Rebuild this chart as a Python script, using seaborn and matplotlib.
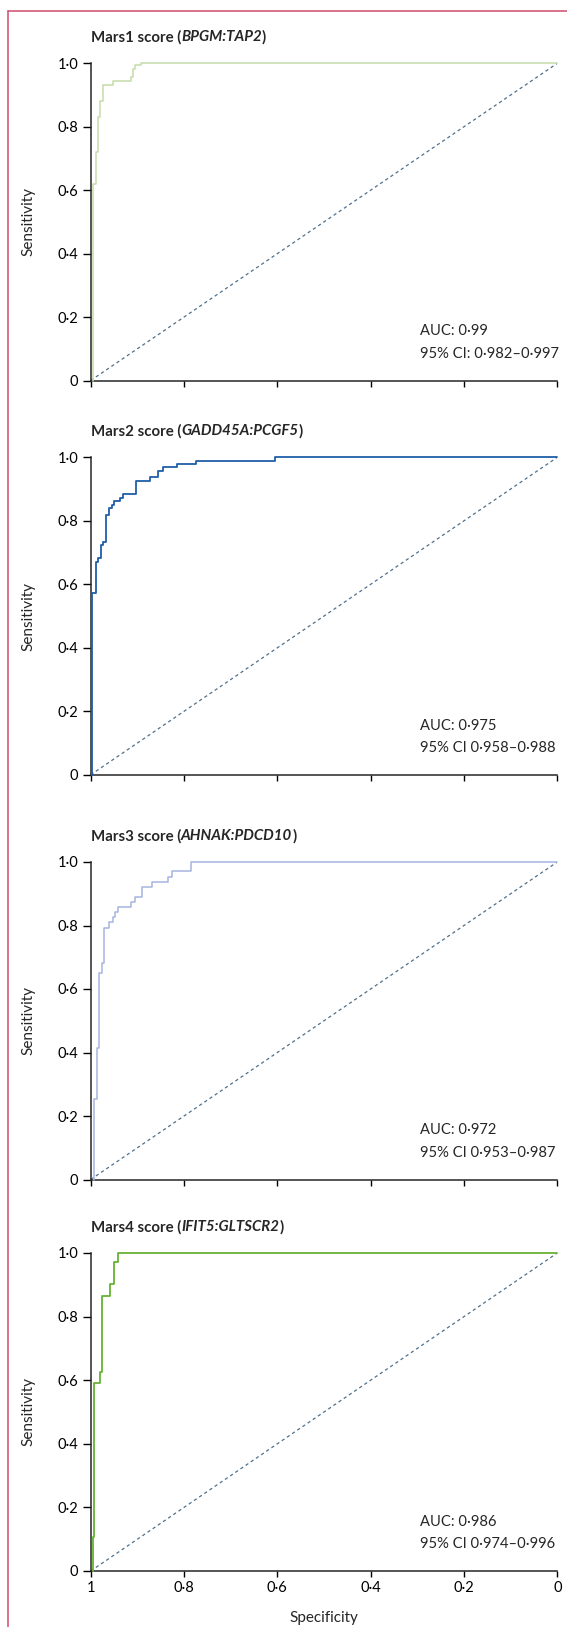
import seaborn as sns
import matplotlib.pyplot as plt
import pandas as pd
from matplotlib.lines import Line2D

# panel texts
scores = ["Mars1 score (", "Mars2 score (", "Mars3 score (", "Mars4 score ("]
genes = ["BPGM:TAP2", "GADD45A:PCGF5", "AHNAK:PDCD10", "IFIT5:GLTSCR2"]
auc_lines = [
    ("AUC: 0·99", "95% CI: 0·982–0·997"),
    ("AUC: 0·975", "95% CI 0·958–0·988"),
    ("AUC: 0·972", "95% CI 0·953–0·987"),
    ("AUC: 0·986", "95% CI 0·974–0·996"),
]
colors = ["#c5dcaa", "#1f5ea8", "#a6b4e0", "#68b236"]
widths = [1.1, 1.3, 1.1, 1.3]

yticks = [0, 0.2, 0.4, 0.6, 0.8, 1.0]
ylabels = ["0", "0·2", "0·4", "0·6", "0·8", "1·0"]
xticks = [1.0, 0.8, 0.6, 0.4, 0.2, 0.0]
xlabels = ["1", "0·8", "0·6", "0·4", "0·2", "0"]

# ROC steps: specificity where the curve rises, sensitivity it rises to
spec1 = [0.996, 0.989, 0.984, 0.979, 0.974, 0.952, 0.914, 0.909, 0.904, 0.892]
sens1 = [0.62, 0.72, 0.83, 0.88, 0.933, 0.943, 0.957, 0.983, 0.994, 1.0]

spec2 = [0.9965, 0.989, 0.984, 0.978, 0.973, 0.967, 0.960, 0.955, 0.949, 0.938,
         0.931, 0.903, 0.873, 0.856, 0.846, 0.816, 0.775, 0.606]
sens2 = [0.574, 0.669, 0.682, 0.724, 0.734, 0.818, 0.839, 0.850, 0.862, 0.873,
         0.883, 0.926, 0.937, 0.957, 0.968, 0.979, 0.989, 1.0]

spec3 = [0.9936, 0.987, 0.982, 0.976, 0.971, 0.961, 0.953, 0.948, 0.942, 0.914,
         0.904, 0.889, 0.869, 0.835, 0.825, 0.786]
sens3 = [0.253, 0.413, 0.651, 0.683, 0.793, 0.810, 0.826, 0.842, 0.858, 0.874,
         0.890, 0.921, 0.938, 0.954, 0.971, 1.0]

spec4 = [0.996, 0.993, 0.979, 0.975, 0.959, 0.951, 0.941]
sens4 = [0.108, 0.590, 0.625, 0.866, 0.902, 0.971, 1.0]

specs = [spec1, spec2, spec3, spec4]
senss = [sens1, sens2, sens3, sens4]

sns.set_style("ticks")
plt.rcParams["font.family"] = ["Lato", "DejaVu Sans"]
plt.rcParams["axes.linewidth"] = 1.1

W, H = 567, 1627
fig = plt.figure(figsize=(W / 100, H / 100), dpi=100)

x0, x1 = 90.7, 557.3
tops = [63.3, 457.3, 862.0, 1253.0]
bottoms = [380.5, 774.8, 1179.5, 1571.0]

for i in range(4):
    ax = fig.add_axes([x0 / W, 1 - bottoms[i] / H, (x1 - x0) / W, (bottoms[i] - tops[i]) / H])
    df = pd.DataFrame({
        "Specificity": [specs[i][0]] + specs[i] + [0.0],
        "Sensitivity": [0.0] + senss[i] + [1.0],
    })
    # chance line
    ax.plot([1, 0], [0, 1], color="#50708a", lw=0.9, ls=(0, (2.6, 2.4)), zorder=1)
    sns.lineplot(data=df, x="Specificity", y="Sensitivity", ax=ax, sort=False,
                 estimator=None, drawstyle="steps-post", color=colors[i],
                 lw=widths[i], clip_on=False, zorder=3)
    ax.set_xlim(1, 0)
    ax.set_ylim(0, 1)
    ax.set_yticks(yticks)
    ax.set_yticklabels(ylabels, fontsize=10.5)
    ax.set_xticks(xticks)
    if i == 3:
        ax.set_xticklabels(xlabels, fontsize=10.5)
        ax.set_xlabel("Specificity", fontsize=11)
        ax.xaxis.set_label_coords(0.5, -0.125)
    else:
        ax.set_xticklabels([])
        ax.set_xlabel("")
    ax.set_ylabel("Sensitivity", fontsize=11)
    ax.yaxis.set_label_coords(-0.119, 0.5)
    ax.tick_params(axis="y", length=6, width=1, pad=3, colors="black")
    ax.tick_params(axis="x", length=4.5, width=1, pad=3, colors="black")
    sns.despine(ax=ax)

    t1 = ax.text(0, 1.082, scores[i], transform=ax.transAxes, fontsize=10.8,
                 fontweight="bold", va="center", ha="left")
    t2 = ax.annotate(genes[i], xy=(1, 0.5), xycoords=t1, fontsize=10.8,
                     fontweight="bold", style="italic", va="center", ha="left")
    ax.annotate(")", xy=(1, 0.5), xycoords=t2, fontsize=10.8,
                fontweight="bold", va="center", ha="left")

    ax.text(0.705, 0.155, auc_lines[i][0], transform=ax.transAxes, fontsize=10.6,
            va="center", ha="left")
    ax.text(0.705, 0.085, auc_lines[i][1], transform=ax.transAxes, fontsize=10.6,
            va="center", ha="left")

# pink frame (top and left edges)
frame = "#cf4c6e"
fig.add_artist(Line2D([8.3 / W, 1], [1 - 11 / H, 1 - 11 / H], color=frame, lw=1.1))
fig.add_artist(Line2D([8.3 / W, 8.3 / W], [0, 1 - 11 / H], color=frame, lw=1.1))

fig.savefig("out.png", dpi=100)
